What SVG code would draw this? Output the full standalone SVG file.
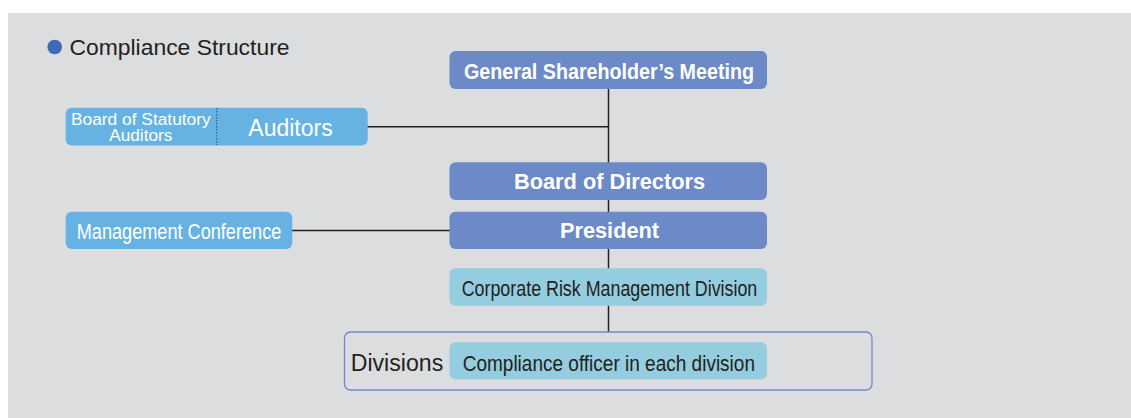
<svg xmlns="http://www.w3.org/2000/svg" width="1131" height="418" viewBox="0 0 1131 418">
<style>
text{font-family:"Liberation Sans",Arial,sans-serif}
.dark{fill:#6c8ac7}
.light{fill:#66b3e3}
.teal{fill:#93cddf}
.wb{fill:#fff;font-weight:bold;font-size:22px}
.wr{fill:#fff;font-size:22px}
.dk{fill:#231f20;font-size:22px}
.conn{stroke:#231f20;stroke-width:1.5;fill:none}
</style>
<rect x="0" y="0" width="1131" height="418" fill="#fff"/>
<rect x="8" y="13" width="1123" height="405" fill="#dcdddf"/>
<g id="title">
<circle cx="54.7" cy="47" r="7.3" fill="#4169b8"/>
<text x="69.5" y="55" font-size="22" fill="#231f20" textLength="220" lengthAdjust="spacingAndGlyphs">Compliance Structure</text>
</g>
<g id="connectors">
<line class="conn" x1="608.5" y1="88" x2="608.5" y2="163"/>
<line class="conn" x1="367" y1="126.7" x2="608.5" y2="126.7"/>
<line class="conn" x1="608.5" y1="199" x2="608.5" y2="213"/>
<line class="conn" x1="292" y1="230.5" x2="450" y2="230.5"/>
<line class="conn" x1="608.5" y1="248" x2="608.5" y2="269"/>
<line class="conn" x1="608.5" y1="305" x2="608.5" y2="332"/>
</g>
<g id="gsm">
<rect class="dark" x="449.5" y="51" width="317.5" height="38" rx="6"/>
<text class="wb" x="464" y="79" textLength="290" lengthAdjust="spacingAndGlyphs">General Shareholder’s Meeting</text>
</g>
<g id="auditors">
<rect class="light" x="65.7" y="107.7" width="302" height="37.8" rx="6"/>
<line x1="216.7" y1="108" x2="216.7" y2="145" stroke="#2f5f8f" stroke-width="1.2" stroke-dasharray="1.5,1.5"/>
<text x="71" y="125" font-size="16" fill="#fff" textLength="139.7" lengthAdjust="spacingAndGlyphs">Board of Statutory</text>
<text x="109.3" y="141" font-size="16" fill="#fff" textLength="63" lengthAdjust="spacingAndGlyphs">Auditors</text>
<text x="248.3" y="135.7" font-size="23" fill="#fff" textLength="84.4" lengthAdjust="spacingAndGlyphs">Auditors</text>
</g>
<g id="board">
<rect class="dark" x="449.5" y="162.3" width="317.5" height="37.7" rx="6"/>
<text class="wb" x="514" y="189.3" textLength="191" lengthAdjust="spacingAndGlyphs">Board of Directors</text>
</g>
<g id="president">
<rect class="dark" x="449.5" y="211.7" width="317.5" height="37.3" rx="6"/>
<text class="wb" x="560" y="238.3" textLength="99" lengthAdjust="spacingAndGlyphs">President</text>
</g>
<g id="mgmt">
<rect class="light" x="65.7" y="211.7" width="226.6" height="37.3" rx="6"/>
<text class="wr" x="76.7" y="239" textLength="204.6" lengthAdjust="spacingAndGlyphs">Management Conference</text>
</g>
<g id="crm">
<rect class="teal" x="449.5" y="268.3" width="317.5" height="37.4" rx="6"/>
<text class="dk" x="461.7" y="295.7" textLength="295.6" lengthAdjust="spacingAndGlyphs">Corporate Risk Management Division</text>
</g>
<g id="divisions">
<rect x="344.5" y="332" width="527.5" height="58" rx="6" fill="none" stroke="#6d8ac8" stroke-width="1.3"/>
<text x="350.7" y="370.7" font-size="23" fill="#231f20" textLength="92.6" lengthAdjust="spacingAndGlyphs">Divisions</text>
</g>
<g id="officer">
<rect class="teal" x="449.5" y="342.3" width="317.5" height="37" rx="6"/>
<text class="dk" x="462.7" y="370.7" textLength="292.3" lengthAdjust="spacingAndGlyphs">Compliance officer in each division</text>
</g>
</svg>
